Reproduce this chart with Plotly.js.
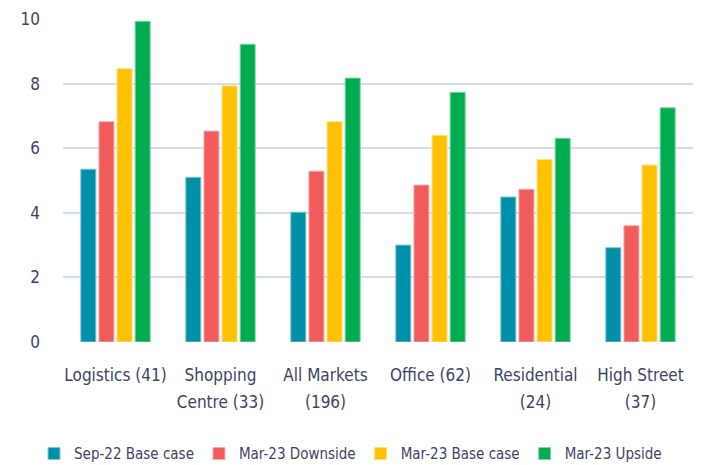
<!DOCTYPE html>
<html>
<head>
<meta charset="utf-8">
<script src="https://cdn.plot.ly/plotly-3.0.1.min.js"></script>
<style>html,body{margin:0;padding:0;background:#fff;}#chart{width:701px;height:465px;}</style>
</head>
<body>
<div id="chart"></div>
<script>
const categories = ["Logistics (41)", "Shopping Centre (33)", "All Markets (196)", "Office (62)", "Residential (24)", "High Street (37)"];
const labelLine1 = ["Logistics (41)", "Shopping", "All Markets", "Office (62)", "Residential", "High Street"];
const labelLine2 = ["", "Centre (33)", "(196)", "", "(24)", "(37)"];
const seriesNames = ["Sep-22 Base case", "Mar-23 Downside", "Mar-23 Base case", "Mar-23 Upside"];
const sep22Base = [5.35, 5.10, 4.02, 3.00, 4.49, 2.92];
const mar23Down = [6.82, 6.53, 5.29, 4.86, 4.73, 3.60];
const mar23Base = [8.46, 7.93, 6.82, 6.40, 5.65, 5.48];
const mar23Up = [9.93, 9.22, 8.17, 7.73, 6.31, 7.25];
const yTicks = [0, 2, 4, 6, 8, 10];

const colors = ["#008FA8", "#F05B5C", "#FFC000", "#00AC4F"];
const lines = ["#7FC7D3", "#F7ADAD", "#FFDF80", "#7FD5A7"];
const values = [sep22Base, mar23Down, mar23Base, mar23Up];
const family = "'DejaVu Sans Condensed', 'DejaVu Sans', sans-serif";
const font = {family: family, size: 17, color: "#3E4466"};
const legendFont = {family: family, size: 15, color: "#3E4466"};

const idx = categories.map((c, i) => i);

const data = values.map((v, i) => ({
  type: "bar",
  name: seriesNames[i],
  x: categories,
  y: v,
  marker: {color: colors[i], line: {color: lines[i], width: 1}},
  hoverinfo: "y"
}));
// carrier for the second line of the category labels (no visible marks)
data.push({
  type: "scatter", mode: "none", x: idx, y: idx.map(() => null),
  xaxis: "x2", yaxis: "y", showlegend: false, hoverinfo: "skip"
});

const layout = {
  width: 701, height: 465,
  margin: {l: 63, r: 8, t: 19, b: 123},
  paper_bgcolor: "#fff", plot_bgcolor: "#fff",
  font: font,
  barmode: "group",
  bargap: 0.31,
  bargroupgap: 0.17,
  xaxis: {
    type: "category",
    tickmode: "array",
    tickvals: categories,
    ticktext: labelLine1,
    tickfont: font,
    showgrid: false,
    zeroline: false,
    showline: false,
    ticks: "",
    ticklabelstandoff: 21,
    automargin: false
  },
  xaxis2: {
    overlaying: "x",
    anchor: "y",
    side: "bottom",
    type: "linear",
    range: [-0.5, categories.length - 0.5],
    tickmode: "array",
    tickvals: idx,
    ticktext: labelLine2,
    tickfont: font,
    showgrid: false,
    zeroline: false,
    showline: false,
    ticks: "",
    ticklabelstandoff: 48,
    automargin: false
  },
  yaxis: {
    range: [0, 10],
    tickvals: yTicks,
    ticktext: yTicks.map(String),
    tickfont: font,
    showgrid: true,
    gridcolor: "#D6DCF0",
    gridwidth: 2,
    zeroline: false,
    showline: false,
    ticks: "",
    ticklabelstandoff: 22,
    automargin: false
  },
  showlegend: true,
  legend: {
    orientation: "h",
    xref: "container", yref: "container",
    x: 0.5, xanchor: "center",
    y: 0.024, yanchor: "middle",
    font: legendFont,
    itemwidth: 30,
    tracegroupgap: 0
  }
};

Plotly.newPlot("chart", data, layout, {displayModeBar: false, staticPlot: true});
</script>
</body>
</html>
